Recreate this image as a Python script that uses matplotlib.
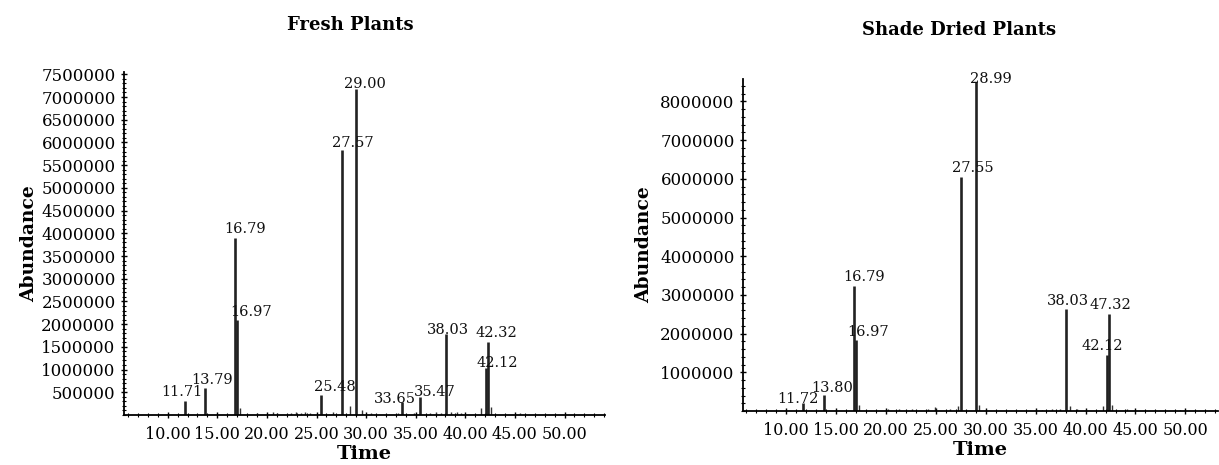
import numpy as np
import matplotlib
matplotlib.use('Agg')
import matplotlib.pyplot as plt
from matplotlib.ticker import MultipleLocator, FormatStrFormatter

plt.rcParams['font.family'] = ['DejaVu Serif']

# Fresh plants - retention times, abundance of labelled peaks
fresh_rt = [11.71, 13.79, 16.79, 16.97, 25.48, 27.57, 29.00, 33.65, 35.47, 38.03, 42.12, 42.32]
fresh_ab = [300000, 590000, 3900000, 2090000, 440000, 5840000, 7180000, 290000, 400000, 1780000, 1030000, 1610000]
fresh_lbl = ['11.71', '13.79', '16.79', '16.97', '25.48', '27.57', '29.00', '33.65', '35.47', '38.03', '42.12', '42.32']
# small baseline bumps
fresh_noise_rt = [17.3, 19.0, 20.6, 21.0, 22.4, 22.9, 23.4, 23.8, 24.3, 26.7, 28.4, 29.6, 30.5, 33.2, 34.8, 36.4, 37.0, 37.5, 38.6, 39.2, 39.6, 41.6, 42.6, 45.5]
fresh_noise_ab = [150000, 40000, 60000, 50000, 50000, 70000, 40000, 60000, 50000, 60000, 200000, 120000, 40000, 40000, 40000, 50000, 60000, 40000, 70000, 60000, 50000, 150000, 180000, 40000]

# Shade dried plants
dried_rt = [11.72, 13.80, 16.79, 16.97, 27.55, 28.99, 38.03, 42.12, 42.32]
dried_ab = [200000, 410000, 3230000, 1830000, 6050000, 8500000, 2630000, 1450000, 2520000]
dried_lbl = ['11.72', '13.80', '16.79', '16.97', '27.55', '28.99', '38.03', '42.12', '47.32']
dried_noise_rt = [17.3, 20.2, 21.3, 22.6, 24.2, 24.9, 26.4, 27.2, 29.3, 33.0, 35.6, 36.6, 37.4, 38.4, 39.1, 41.7, 42.6, 44.2, 47.0, 49.5]
dried_noise_ab = [150000, 40000, 50000, 40000, 50000, 100000, 50000, 120000, 160000, 30000, 30000, 50000, 60000, 130000, 50000, 120000, 160000, 40000, 30000, 30000]

# label offsets (pixels) from peak top
fresh_off = [(-3, 9), (7, 8), (10, 9), (14, 8), (14, 8), (11, 7), (9, 5), (-7, 3), (14, 5), (2, 4), (11, 5), (8, 9)]
dried_off = [(-5, 4), (8, 7), (10, 9), (12, 8), (12, 9), (15, 3), (2, 8), (-4, 9), (2, 9)]

fig = plt.figure(figsize=(12.19, 4.65), dpi=100)
ax1 = fig.add_axes([0.1017, 0.1075, 0.3946, 0.7376])
ax2 = fig.add_axes([0.6095, 0.1161, 0.3897, 0.714])


def draw(ax, rt, ab, lbl, nrt, nab, off, xlim, ylim, ystep, ypad):
    ax.vlines(nrt, 0, nab, color='#333333', lw=1.0)
    ax.vlines(rt, 0, ab, color='#222222', lw=1.9)
    for t, h, s, (dx, dy) in zip(rt, ab, lbl, off):
        ax.annotate(s, (t, h), xytext=(dx, dy), textcoords='offset pixels',
                    ha='center', va='center', fontsize=10.5, color='#111111')
    ax.set_xlim(*xlim)
    ax.set_ylim(*ylim)
    ax.xaxis.set_minor_locator(MultipleLocator(1))
    ax.xaxis.set_major_formatter(FormatStrFormatter('%.2f'))
    ax.set_xticks([10, 15, 20, 25, 30, 35, 40, 45, 50])
    ax.yaxis.set_major_locator(MultipleLocator(ystep))
    ax.yaxis.set_minor_locator(MultipleLocator(ystep / 5))
    ax.yaxis.set_major_formatter(FormatStrFormatter('%d'))
    yt = [v for v in ax.get_yticks() if 0 < v <= ylim[1]]
    ax.set_yticks(yt)
    for sp in ['top', 'right']:
        ax.spines[sp].set_visible(False)
    for sp in ['left', 'bottom']:
        ax.spines[sp].set_linewidth(1.3)
    ax.tick_params(axis='y', which='major', length=4, width=1, labelsize=12, direction='inout', pad=4)
    ax.tick_params(axis='x', which='major', length=4, width=1, labelsize=11.5, direction='inout', pad=6)
    ax.tick_params(axis='both', which='minor', length=2.5, width=0.8, direction='inout')
    ax.set_xlabel('Time', fontsize=14, fontweight='bold', labelpad=1)
    ax.set_ylabel('Abundance', fontsize=13.5, fontweight='bold', labelpad=ypad)


draw(ax1, fresh_rt, fresh_ab, fresh_lbl, fresh_noise_rt, fresh_noise_ab, fresh_off,
     (5.59, 54.08), (0, 7.55e6), 500000, 2)
draw(ax2, dried_rt, dried_ab, dried_lbl, dried_noise_rt, dried_noise_ab, dried_off,
     (5.68, 53.27), (0, 8.58e6), 1000000, 5)

fig.text(350 / 1219, 1 - 25 / 465, 'Fresh Plants', ha='center', va='center', fontsize=13, fontweight='bold')
fig.text(959 / 1219, 1 - 30 / 465, 'Shade Dried Plants', ha='center', va='center', fontsize=13, fontweight='bold')

fig.savefig('out.png', dpi=100)
